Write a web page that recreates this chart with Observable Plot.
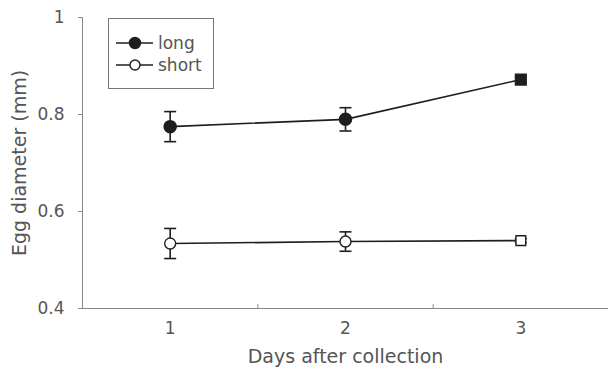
<!DOCTYPE html>
<html><head><meta charset="utf-8">
<script src="https://cdn.jsdelivr.net/npm/d3@7"></script>
<script src="https://cdn.jsdelivr.net/npm/@observablehq/plot@0.6"></script>
<style>
body{margin:0;background:#fff;font-family:"DejaVu Sans",sans-serif;}
#wrap{position:relative;width:609px;height:372px;}
#legend{position:absolute;left:108px;top:18px;}
</style></head>
<body><div id="wrap"></div>
<script>
const days = [1, 2, 3];
const longMean = [0.775, 0.79, 0.872];
const longErr = [0.031, 0.024, 0.006];
const shortMean = [0.534, 0.538, 0.54];
const shortErr = [0.031, 0.02, 0.004];
const symbols = ["circle", "circle", "square"];
const yTicks = [0.4, 0.6, 0.8, 1];
const bandEdges = [1.5, 2.5];
const seriesNames = ["long", "short"];

const rows = [];
days.forEach((d, i) => {
  rows.push({series: "long", day: d, v: longMean[i], e: longErr[i], sym: symbols[i]});
  rows.push({series: "short", day: d, v: shortMean[i], e: shortErr[i], sym: symbols[i]});
});
const longRows = rows.filter(r => r.series === "long");
const shortRows = rows.filter(r => r.series === "short");
const cap = {draw(ctx) { ctx.moveTo(-6, 0); ctx.lineTo(6, 0); }};
const ink = "#1e1e1e";
const axisGray = "#8a8a8a";

const chart = Plot.plot({
  width: 609, height: 372,
  marginLeft: 82, marginRight: 1, marginTop: 17, marginBottom: 64,
  style: {fontFamily: "DejaVu Sans, sans-serif", fontSize: "17px", color: "#555", background: "#fff"},
  x: {domain: [0.5, 3.5], ticks: days, tickSize: 0, tickPadding: 13, label: "Days after collection", labelArrow: "none", labelAnchor: "center", labelOffset: 54, tickFormat: d => String(d)},
  y: {domain: [0.4, 1], ticks: yTicks, tickSize: 4, tickPadding: 14, label: "Egg diameter (mm)", labelArrow: "none", labelAnchor: "center", labelOffset: 70, tickFormat: d => d === 1 ? "1" : d3.format(".1f")(d)},
  symbol: {domain: ["circle", "square"], range: ["circle", "square"]},
  marks: [
    Plot.axisX({ticks: days, tickSize: 0, tickPadding: 13, fontSize: 17, label: null, tickFormat: d => String(d)}),
    Plot.axisX({ticks: [], label: "Days after collection", labelArrow: "none", labelAnchor: "center", labelOffset: 54, fontSize: 19}),
    Plot.axisY({ticks: yTicks, tickSize: 4, tickPadding: 14, fontSize: 17, stroke: axisGray, label: null, tickFormat: d => d === 1 ? "1" : d3.format(".1f")(d)}),
    Plot.axisY({ticks: [], label: "Egg diameter (mm)", labelArrow: "none", labelAnchor: "center", labelOffset: 70, fontSize: 19}),
    Plot.ruleX([0.5], {stroke: axisGray}),
    Plot.ruleY([0.4], {stroke: axisGray}),
    Plot.ruleX(bandEdges, {x: d => d, y1: 0.4, y2: 0.408, stroke: axisGray}),
    Plot.line(longRows, {x: "day", y: "v", stroke: ink, strokeWidth: 1.6}),
    Plot.line(shortRows, {x: "day", y: "v", stroke: ink, strokeWidth: 1.6}),
    Plot.ruleX(rows, {x: "day", y1: d => d.v - d.e, y2: d => d.v + d.e, stroke: ink, strokeWidth: 1.6}),
    Plot.dot(rows, {x: "day", y: d => d.v + d.e, symbol: () => cap, stroke: ink, strokeWidth: 1.6}),
    Plot.dot(rows, {x: "day", y: d => d.v - d.e, symbol: () => cap, stroke: ink, strokeWidth: 1.6}),
    Plot.dot(longRows, {x: "day", y: "v", symbol: "sym", r: 6, fill: ink, stroke: ink}),
    Plot.dot(shortRows, {x: "day", y: "v", symbol: "sym", r: 5.5, fill: "#fff", stroke: ink, strokeWidth: 1.4})
  ]
});
const wrap = document.getElementById("wrap");
wrap.appendChild(chart);

const ns = "http://www.w3.org/2000/svg";
const lg = document.createElementNS(ns, "svg");
lg.setAttribute("id", "legend");
lg.setAttribute("width", 106);
lg.setAttribute("height", 71);
lg.innerHTML = `<rect x="0.5" y="0.5" width="105" height="70" fill="#fff" stroke="#777"/>` +
  seriesNames.map((name, i) => {
    const cy = 25 + i * 22;
    const fill = name === "long" ? ink : "#fff";
    return `<line x1="8" x2="45" y1="${cy}" y2="${cy}" stroke="${ink}" stroke-width="1.6"/>` +
      `<circle cx="27" cy="${cy}" r="${name === "long" ? 5.5 : 5}" fill="${fill}" stroke="${ink}" stroke-width="1.4"/>` +
      `<text x="50" y="${cy}" dy="0.35em" font-family="DejaVu Sans, sans-serif" font-size="17" fill="#555">${name}</text>`;
  }).join("");
wrap.appendChild(lg);
</script></body></html>
